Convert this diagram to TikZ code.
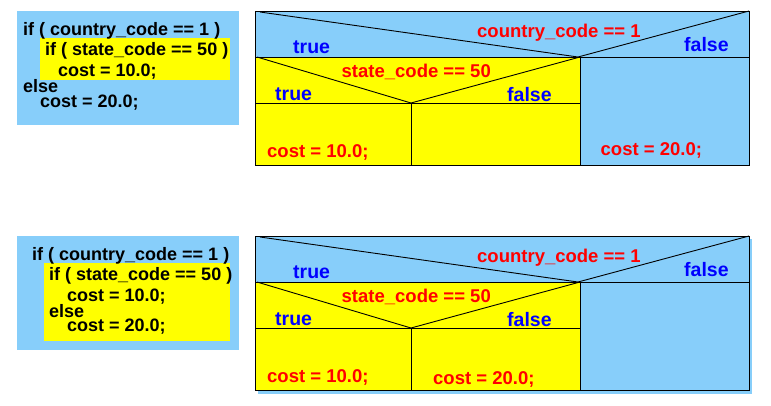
\documentclass[tikz,border=0pt]{standalone}
\usepackage{fontspec}
\setmainfont{Liberation Sans}
\definecolor{skyb}{RGB}{135,206,250}
\definecolor{yel}{RGB}{255,255,0}
\definecolor{lbred}{RGB}{255,0,0}
\definecolor{lbblue}{RGB}{0,0,255}
\tikzset{
  code/.style={anchor=base west,inner sep=0pt,font=\bfseries\fontsize{18}{18}\selectfont,text=black},
  cond/.style={anchor=base west,inner sep=0pt,font=\bfseries\fontsize{18.5}{18.5}\selectfont,text=lbred},
  branch/.style={anchor=base west,inner sep=0pt,font=\bfseries\fontsize{19.5}{19.5}\selectfont,text=lbblue},
  frame/.style={draw=black,line width=1pt},
  thin/.style={draw=black,line width=0.9pt}
}
\begin{document}
\begin{tikzpicture}[x=1pt,y=-1pt]
\useasboundingbox (0,0) rectangle (771,405);
% ---------- top code box
\fill[skyb] (17,11) rectangle (239,125);
\fill[yel] (40,38) rectangle (230,80);
\node[code] (a1) at (23,35) {if ( country\_code == 1 )};
\node[code] (a2) at (45,55) {if ( state\_code == 50 )};
\node[code] (a3) at (58,76) {cost = 10.0;};
\node[code] (a4) at (23,92) {else};
\node[code] (a5) at (40,107) {cost = 20.0;};
% ---------- top diagram
\fill[skyb] (255,11) rectangle (749,165);
\fill[yel] (255,57) rectangle (580,165);
\draw[frame] (255,11) rectangle (749,165);
\draw[thin] (255,57) -- (749,57);
\draw[thin] (580,57) -- (580,165);
\draw[thin] (260,12) -- (578,57) -- (749,11);
\draw[thin] (255,103) -- (580,103);
\draw[thin] (411,103) -- (411,165);
\draw[thin] (257,57) -- (411,103) -- (580,57);
\node[cond] (c1) at (477,37.5) {country\_code == 1};
\node[branch] (t1) at (293,53) {true};
\node[branch] (f1) at (684,51.5) {false};
\node[cond] (s1) at (341.5,77) {state\_code == 50};
\node[branch] (t2) at (275,100) {true};
\node[branch] (f2) at (507,101.5) {false};
\node[cond] (k1) at (267,157) {cost = 10.0;};
\node[cond] (k2) at (600.5,155) {cost = 20.0;};
% ---------- bottom code box
\fill[skyb] (17,236) rectangle (239,350);
\fill[yel] (44,263) rectangle (230,341);
\node[code] (b1) at (32,260) {if ( country\_code == 1 )};
\node[code] (b2) at (49,280) {if ( state\_code == 50 )};
\node[code] (b3) at (67,301.5) {cost = 10.0;};
\node[code] (b4) at (49,317) {else};
\node[code] (b5) at (67,331.5) {cost = 20.0;};
% ---------- bottom diagram
\fill[skyb] (258,239) rectangle (752,394);
\fill[skyb] (255,236) rectangle (749,390);
\fill[yel] (255,282) rectangle (580,390);
\draw[frame] (255,236) rectangle (749,390);
\draw[thin] (255,282) -- (749,282);
\draw[thin] (580,282) -- (580,390);
\draw[thin] (260,237) -- (578,282) -- (749,236);
\draw[thin] (255,328) -- (580,328);
\draw[thin] (411,328) -- (411,390);
\draw[thin] (257,282) -- (411,328) -- (580,282);
\node[cond] (c3) at (477,262.5) {country\_code == 1};
\node[branch] (t3) at (293,278) {true};
\node[branch] (f3) at (684,276.5) {false};
\node[cond] (s3) at (341.5,302) {state\_code == 50};
\node[branch] (t4) at (275,325) {true};
\node[branch] (f4) at (507,326.5) {false};
\node[cond] (k3) at (267,382) {cost = 10.0;};
\node[cond] (k4) at (433,384) {cost = 20.0;};
\end{tikzpicture}
\end{document}
